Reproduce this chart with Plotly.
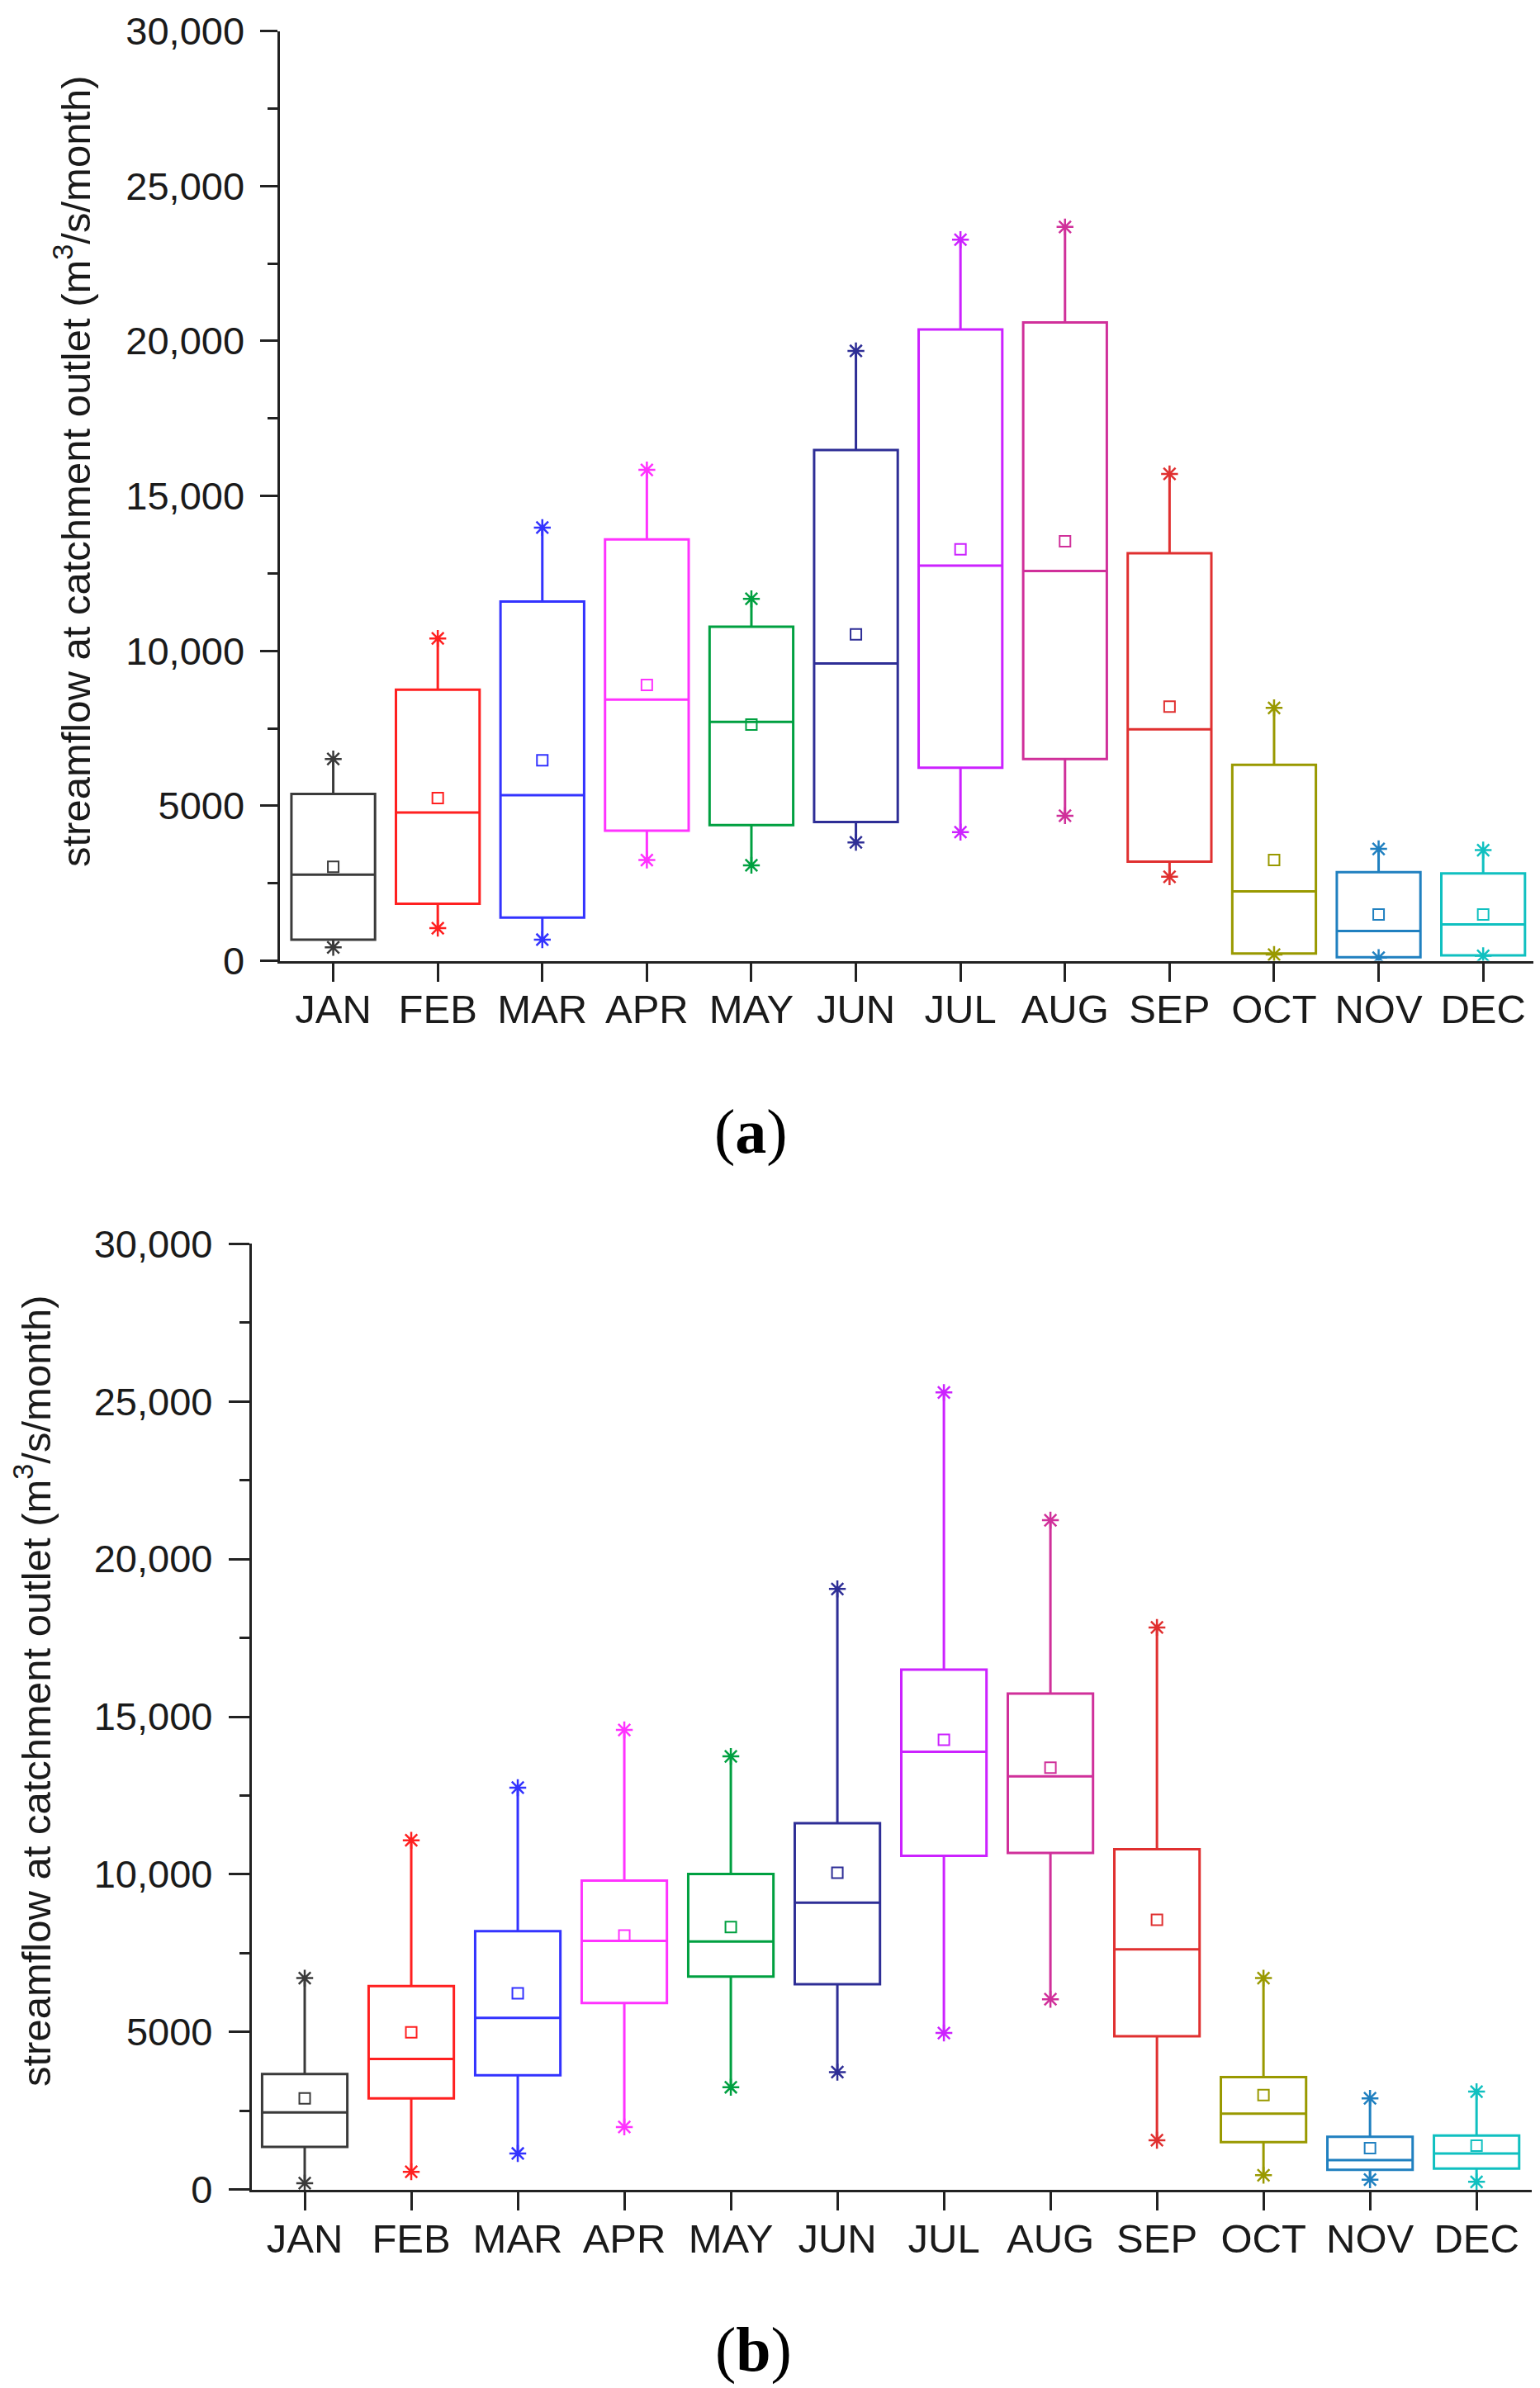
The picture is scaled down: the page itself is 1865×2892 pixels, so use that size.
import plotly.graph_objects as go

months = ["JAN", "FEB", "MAR", "APR", "MAY", "JUN", "JUL", "AUG", "SEP", "OCT", "NOV", "DEC"]
colors = ["#3a3a3a", "#ff2020", "#3333ff", "#ff33ff", "#00a040", "#2e2e96",
          "#cc22ff", "#d0309a", "#e03030", "#999900", "#2080c0", "#10c0c0"]
y_ticks = [0, 5000, 10000, 15000, 20000, 25000, 30000]
y_ticktext = ["0", "5000", "10,000", "15,000", "20,000", "25,000", "30,000"]

# Panel (a)
a_min = [430, 1050, 680, 3250, 3080, 3820, 4150, 4680, 2710, 200, 100, 160]
a_q1 = [680, 1840, 1390, 4200, 4380, 4480, 6230, 6510, 3200, 230, 110, 170]
a_med = [2780, 4780, 5340, 8430, 7710, 9590, 12750, 12580, 7470, 2240, 960, 1170]
a_q3 = [5380, 8750, 11590, 13600, 10780, 16480, 20370, 20600, 13150, 6320, 2860, 2820]
a_max = [6510, 10400, 13980, 15840, 11680, 19680, 23270, 23680, 15710, 8160, 3610, 3570]
a_mean = [3030, 5250, 6470, 8900, 7620, 10530, 13280, 13540, 8200, 3250, 1490, 1490]

# Panel (b)
b_min = [210, 570, 1150, 1990, 3250, 3730, 4970, 6040, 1570, 460, 320, 250]
b_q1 = [1360, 2900, 3630, 5920, 6760, 6520, 10590, 10680, 4870, 1510, 630, 670]
b_med = [2450, 4150, 5450, 7890, 7870, 9100, 13890, 13110, 7620, 2410, 940, 1150]
b_q3 = [3670, 6460, 8200, 9800, 10010, 11620, 16490, 15730, 10800, 3570, 1680, 1720]
b_max = [6710, 11080, 12750, 14580, 13740, 19050, 25280, 21230, 17830, 6710, 2900, 3110]
b_mean = [2900, 4990, 6230, 8060, 8330, 10050, 14270, 13380, 8560, 3000, 1320, 1400]

fig = go.Figure()
xs = list(range(len(months)))


def add_panel(xa, ya, mins, q1s, meds, q3s, maxs, means):
    for i in xs:
        fig.add_trace(go.Box(
            x=[i], q1=[q1s[i]], median=[meds[i]], q3=[q3s[i]],
            lowerfence=[mins[i]], upperfence=[maxs[i]],
            width=0.8, whiskerwidth=0, boxpoints=False,
            line=dict(color=colors[i], width=3),
            fillcolor="rgba(255,255,255,0)",
            xaxis=xa, yaxis=ya, hoverinfo="skip", showlegend=False))
    for vals in (mins, maxs):
        fig.add_trace(go.Scatter(
            x=xs, y=vals, mode="markers", xaxis=xa, yaxis=ya,
            marker=dict(symbol="asterisk-open", size=17, color=colors,
                        line=dict(color=colors, width=2.5)),
            hoverinfo="skip", showlegend=False))
    fig.add_trace(go.Scatter(
        x=xs, y=means, mode="markers", xaxis=xa, yaxis=ya,
        marker=dict(symbol="square-open", size=13, color=colors,
                    line=dict(color=colors, width=2)),
        hoverinfo="skip", showlegend=False))


add_panel("x", "y", a_min, a_q1, a_med, a_q3, a_max, a_mean)
add_panel("x2", "y2", b_min, b_q1, b_med, b_q3, b_max, b_mean)

xtickfont = dict(family="Liberation Sans, Arial, sans-serif", size=49, color="#1a1a1a")
ytickfont = dict(family="Liberation Sans, Arial, sans-serif", size=47, color="#1a1a1a")

W, H = 1857, 2884  # page body adds an 8 px offset


def px_x(p):
    return (p - 8) / W


def px_y(p):
    return 1 - (p - 8) / H


def xaxis_cfg(domain, rng, anchor):
    return dict(domain=domain, range=rng, anchor=anchor, tickmode="array",
                tickvals=xs, ticktext=months, ticks="outside", ticklen=22,
                tickwidth=3, tickcolor="#222222", showline=True, linewidth=3,
                linecolor="#222222", showgrid=False, zeroline=False,
                tickfont=xtickfont, ticklabelstandoff=-8, automargin=False)


def yaxis_cfg(domain, anchor, ticklen, standoff):
    return dict(domain=domain, range=[0, 30000], anchor=anchor, tickmode="array",
                tickvals=y_ticks, ticktext=y_ticktext, ticks="outside",
                ticklen=ticklen, tickwidth=3, tickcolor="#222222",
                showline=True, linewidth=3, linecolor="#222222",
                showgrid=False, zeroline=False, tickfont=ytickfont,
                ticklabelstandoff=standoff, automargin=False,
                minor=dict(tickmode="linear", tick0=0, dtick=2500, ticks="outside",
                           ticklen=12, tickwidth=3, tickcolor="#222222", showgrid=False))


fig.update_layout(
    width=W, height=H,
    margin=dict(l=0, r=0, t=0, b=0, autoexpand=False),
    paper_bgcolor="white", plot_bgcolor="white",
    xaxis=xaxis_cfg([px_x(338.5), px_x(1862)], [-0.514, 11.52], "y"),
    yaxis=yaxis_cfg([px_y(1163.5), px_y(37.7)], "x", 21, 9),
    xaxis2=xaxis_cfg([px_x(304.9), px_x(1854.6)], [-0.497, 11.515], "y2"),
    yaxis2=yaxis_cfg([px_y(2651.9), px_y(1506.1)], "x2", 25, 10),
    boxmode="overlay",
)

title = "streamflow at catchment outlet (m<sup>3</sup>/s/month)"
titlefont = dict(family="Liberation Sans, Arial, sans-serif", size=49, color="#1a1a1a")
fig.add_annotation(text=title, xref="paper", yref="paper", x=px_x(88), y=px_y(571),
                   textangle=-90, showarrow=False, font=titlefont,
                   xanchor="center", yanchor="middle")
fig.add_annotation(text=title, xref="paper", yref="paper", x=px_x(40), y=px_y(2048),
                   textangle=-90, showarrow=False, font=titlefont,
                   xanchor="center", yanchor="middle")

labfont = dict(family="Liberation Serif, Times New Roman, serif", size=76, color="black")
fig.add_annotation(text="(<b>a</b>)", xref="paper", yref="paper", x=px_x(909),
                   y=px_y(1370), showarrow=False, font=labfont,
                   xanchor="center", yanchor="middle")
fig.add_annotation(text="(<b>b</b>)", xref="paper", yref="paper", x=px_x(912),
                   y=px_y(2845), showarrow=False, font=labfont,
                   xanchor="center", yanchor="middle")

fig.write_html("out.html")
